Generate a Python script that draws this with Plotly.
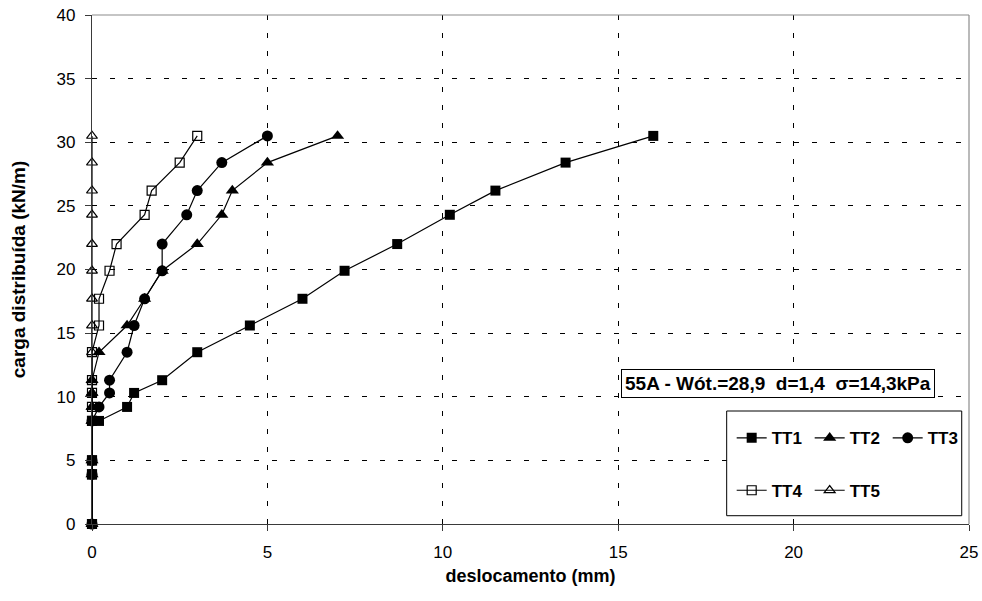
import plotly.graph_objects as go

# Load steps (kN/m) and measured displacements (mm) for each test
carga = [0, 3.9, 5.0, 8.1, 9.2, 10.3, 11.3, 13.5, 15.6, 17.7, 19.9, 22.0, 24.3, 26.2, 28.4, 30.5]

carga_tt1 = [0, 3.9, 5.0, 8.1, 8.1, 9.2, 10.3, 11.3, 13.5, 15.6, 17.7, 19.9, 22.0, 24.3, 26.2, 28.4, 30.5]
desl_tt1 = [0, 0, 0, 0, 0.2, 1.0, 1.2, 2.0, 3.0, 4.5, 6.0, 7.2, 8.7, 10.2, 11.5, 13.5, 16.0]

desl_tt2 = [0, 0, 0, 0, 0, 0, 0, 0.2, 1.0, 1.5, 2.0, 3.0, 3.7, 4.0, 5.0, 7.0]
desl_tt3 = [0, 0, 0, 0, 0.2, 0.5, 0.5, 1.0, 1.2, 1.5, 2.0, 2.0, 2.7, 3.0, 3.7, 5.0]
desl_tt4 = [0, 0, 0, 0, 0, 0, 0, 0, 0.2, 0.2, 0.5, 0.7, 1.5, 1.7, 2.5, 3.0]
desl_tt5 = [0, 0, 0, 0, 0, 0, 0, 0, 0, 0, 0, 0, 0, 0, 0, 0]

x_ticks = [0, 5, 10, 15, 20, 25]
y_ticks = [0, 5, 10, 15, 20, 25, 30, 35, 40]

FONT = "Liberation Sans, Arial, sans-serif"

series = [
    ("TT1", desl_tt1, carga_tt1, dict(symbol="square", size=10, color="black"), "legend"),
    ("TT2", desl_tt2, carga, dict(symbol="triangle-up", size=11.5, color="black"), "legend"),
    ("TT3", desl_tt3, carga, dict(symbol="circle", size=11, color="black"), "legend"),
    ("TT4", desl_tt4, carga, dict(symbol="square-open", size=9, color="black",
                                  line=dict(width=1.2, color="black")), "legend2"),
    ("TT5", desl_tt5, carga, dict(symbol="triangle-up-open", size=9.5, color="black",
                                  line=dict(width=1.2, color="black")), "legend2"),
]

fig = go.Figure()
for name, xs, ys, marker, leg in series:
    fig.add_trace(go.Scatter(
        x=xs, y=ys, name=name, mode="lines+markers",
        line=dict(color="black", width=1.2),
        marker=marker, legend=leg, cliponaxis=False,
    ))

legend_style = dict(
    orientation="h", xanchor="left", yanchor="middle",
    bgcolor="rgba(0,0,0,0)", borderwidth=0,
    font=dict(family=FONT, size=17, color="black", weight="bold"),
    tracegroupgap=0, entrywidth=33, entrywidthmode="pixels",
)

fig.update_layout(
    width=982, height=601,
    margin=dict(l=92, r=13, t=15, b=77, autoexpand=False),
    paper_bgcolor="white", plot_bgcolor="white",
    font=dict(family=FONT, color="black"),
    legend=dict(x=0.7294, y=0.1684, **legend_style),
    legend2=dict(x=0.7294, y=0.0654, **legend_style),
    xaxis=dict(
        range=[0, 25], tickvals=x_ticks, ticktext=[str(v) for v in x_ticks],
        showgrid=True, gridcolor="black", gridwidth=1, griddash="5px,13px",
        zeroline=False, showline=True, linecolor="#3a3a3a", linewidth=1.3,
        ticks="outside", ticklen=6, tickcolor="#3a3a3a", ticklabelstandoff=6,
        tickfont=dict(family=FONT, size=17, color="black"),
        title=dict(text="deslocamento (mm)", standoff=8,
                   font=dict(family=FONT, size=18, color="black", weight="bold")),
    ),
    yaxis=dict(
        range=[0, 40], tickvals=y_ticks, ticktext=[str(v) for v in y_ticks],
        showgrid=True, gridcolor="black", gridwidth=1, griddash="5px,13px",
        zeroline=False, showline=True, linecolor="#3a3a3a", linewidth=1.3,
        ticks="outside", ticklen=6, tickcolor="#3a3a3a", ticklabelstandoff=6,
        tickfont=dict(family=FONT, size=17, color="black"),
        title=dict(text="carga distribuída (kN/m)", standoff=25,
                   font=dict(family=FONT, size=19, color="black", weight="bold")),
    ),
    shapes=[
        # grey frame on the top and right of the plot area
        dict(type="line", xref="paper", yref="paper", x0=0, x1=1, y0=1, y1=1,
             line=dict(color="#8c8c8c", width=1.2), layer="above"),
        dict(type="line", xref="paper", yref="paper", x0=1, x1=1, y0=0, y1=1,
             line=dict(color="#8c8c8c", width=1.2), layer="above"),
        # box around the two legend rows
        dict(type="rect", xref="paper", yref="paper",
             x0=0.7237, x1=0.9917, y0=0.0163, y1=0.2220,
             line=dict(color="black", width=1), fillcolor="white", layer="above"),
    ],
    annotations=[
        dict(
            text="55A - Wót.=28,9\u00a0\u00a0d=1,4\u00a0\u00a0σ=14,3kPa",
            xref="paper", yref="paper", x=0.7821, y=0.2752,
            xanchor="center", yanchor="middle", showarrow=False,
            font=dict(family=FONT, size=19, color="black", weight="bold"),
            bgcolor="white", bordercolor="black", borderwidth=1, borderpad=3,
        )
    ],
)

fig.write_html("out.html")
